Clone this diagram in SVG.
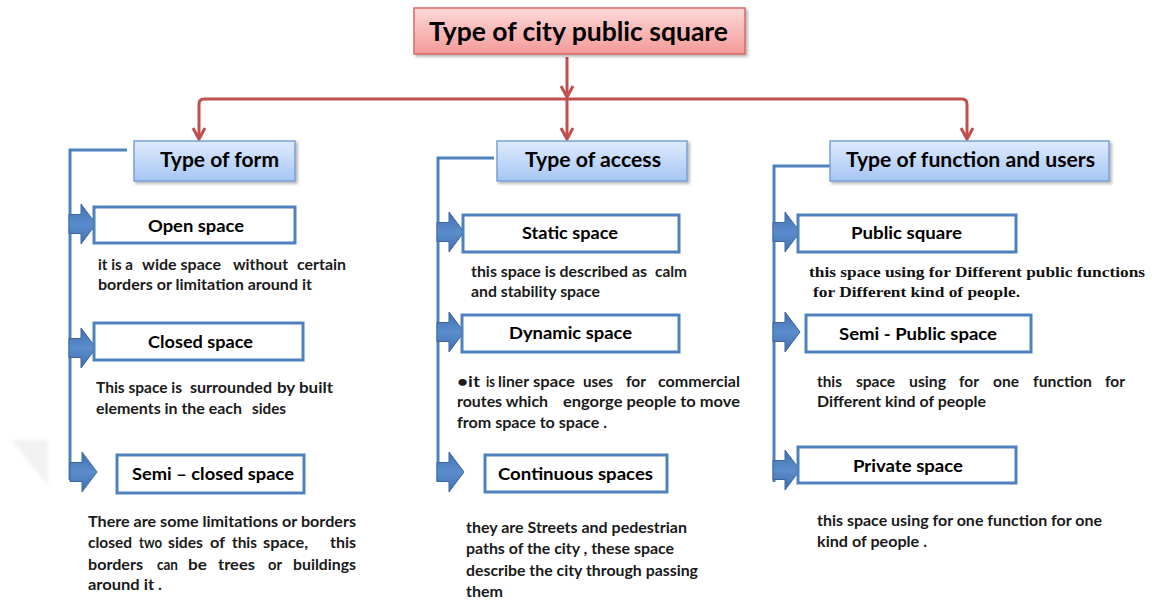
<svg xmlns="http://www.w3.org/2000/svg" width="1152" height="601" viewBox="0 0 1152 601">
<defs>
<linearGradient id="gTitle" x1="0" y1="0" x2="0" y2="1">
<stop offset="0" stop-color="#fdd9d8"/><stop offset="1" stop-color="#f39a98"/>
</linearGradient>
<linearGradient id="gHead" x1="0" y1="0" x2="0" y2="1">
<stop offset="0" stop-color="#dfebfd"/><stop offset="1" stop-color="#a6c5f4"/>
</linearGradient>
<linearGradient id="gArrow" x1="0" y1="0" x2="0" y2="1">
<stop offset="0" stop-color="#3f6fae"/><stop offset="0.5" stop-color="#5b8ccb"/><stop offset="1" stop-color="#3f6fae"/>
</linearGradient>
<filter id="sh" x="-10%" y="-20%" width="130%" height="160%">
<feDropShadow dx="2" dy="2" stdDeviation="1.5" flood-color="#000" flood-opacity="0.3"/>
</filter>
<filter id="blur" x="-20%" y="-20%" width="140%" height="140%"><feGaussianBlur stdDeviation="2"/></filter>
<marker id="chev" viewBox="0 0 12 12" refX="11" refY="6" markerWidth="12" markerHeight="12" markerUnits="userSpaceOnUse" orient="auto" overflow="visible">
<path d="M0,0 L11,6 L0,12" fill="none" stroke="#c0504d" stroke-width="3"/>
</marker>
<path id="blk" d="M-27,-9.5 H-15 V-20 L0,0 L-15,20 V9.5 H-27 Z"/>
<style>
.red{fill:none;stroke:#c0504d;stroke-width:3;stroke-linejoin:round}
.blue{fill:none;stroke:#4f81bd;stroke-width:3}
.arr{fill:url(#gArrow);stroke:#3a66a0;stroke-width:1}
.box{fill:#fff;stroke:#4f81bd;stroke-width:3}
.head{fill:url(#gHead);stroke:#7ba0d4;stroke-width:1.5}
.lbl{font-family:Lato,"Liberation Sans",sans-serif;font-weight:bold;font-size:17.5px;fill:#000}
.hd{font-family:Lato,"Liberation Sans",sans-serif;font-weight:bold;font-size:21px;fill:#000}
.ds{font-family:Lato,"Liberation Sans",sans-serif;font-weight:bold;font-size:15.5px;fill:#1a1a1a}
.sf{font-family:"Liberation Serif",serif;font-weight:bold;font-size:15px;fill:#111}
</style>
</defs>
<rect width="1152" height="601" fill="#fff"/>
<polygon points="12,440 48,440 48,486" fill="#f1f1f1" filter="url(#blur)"/>

<g id="connectors">
<path class="red" d="M567,57 V97" marker-end="url(#chev)"/>
<path class="red" d="M567,99 V139" marker-end="url(#chev)"/>
<path class="red" d="M567,99 H204 Q199,99 199,104 V139" marker-end="url(#chev)"/>
<path class="red" d="M567,99 H962 Q967,99 967,104 V139" marker-end="url(#chev)"/>
<path class="blue" d="M127,150 H70 V480"/>
<path class="blue" d="M494,158 H438 V482"/>
<path class="blue" d="M830,166 H774 V482"/>
<use href="#blk" class="arr" transform="translate(96,224)"/>
<use href="#blk" class="arr" transform="translate(96,348)"/>
<use href="#blk" class="arr" transform="translate(97,472)"/>
<use href="#blk" class="arr" transform="translate(464,232)"/>
<use href="#blk" class="arr" transform="translate(464,332)"/>
<use href="#blk" class="arr" transform="translate(464,472)"/>
<use href="#blk" class="arr" transform="translate(800,232)"/>
<use href="#blk" class="arr" transform="translate(800,332)"/>
<use href="#blk" class="arr" transform="translate(800,470)"/>
</g>

<g id="title">
<rect x="414" y="8" width="331" height="46" fill="url(#gTitle)" stroke="#d96a68" stroke-width="1.5" filter="url(#sh)"/>
<text x="429" y="41" textLength="299" lengthAdjust="spacingAndGlyphs" font-family="Lato,'Liberation Sans',sans-serif" font-weight="bold" font-size="26" fill="#000">Type of city public square</text>
</g>

<g id="type-form">
<rect class="head" x="134" y="141" width="161" height="40" filter="url(#sh)"/>
<text class="hd" x="160" y="167" textLength="119" lengthAdjust="spacingAndGlyphs">Type of form</text>
</g>
<g id="type-access">
<rect class="head" x="497" y="141" width="190" height="40" filter="url(#sh)"/>
<text class="hd" x="525" y="167" textLength="136" lengthAdjust="spacingAndGlyphs">Type of access</text>
</g>
<g id="type-function">
<rect class="head" x="830" y="141" width="279" height="40" filter="url(#sh)"/>
<text class="hd" x="846" y="167" textLength="249" lengthAdjust="spacingAndGlyphs">Type of function and users</text>
</g>

<g id="open-space">
<rect class="box" x="94" y="207" width="201" height="36"/>
<text class="lbl" x="148" y="232" textLength="96" lengthAdjust="spacingAndGlyphs">Open space</text>
<text class="ds" y="270"><tspan x="98" textLength="35" lengthAdjust="spacingAndGlyphs">it is a</tspan><tspan x="142" textLength="79" lengthAdjust="spacingAndGlyphs">wide space</tspan><tspan x="233" textLength="55" lengthAdjust="spacingAndGlyphs">without</tspan><tspan x="297" textLength="49" lengthAdjust="spacingAndGlyphs">certain</tspan></text>
<text class="ds" x="98" y="290" textLength="214" lengthAdjust="spacingAndGlyphs">borders or limitation around it</text>
</g>
<g id="closed-space">
<rect class="box" x="94" y="323" width="209" height="37"/>
<text class="lbl" x="148" y="348" textLength="105" lengthAdjust="spacingAndGlyphs">Closed space</text>
<text class="ds" y="393"><tspan x="96" textLength="86" lengthAdjust="spacingAndGlyphs">This space is</tspan><tspan x="190" textLength="82" lengthAdjust="spacingAndGlyphs">surrounded</tspan><tspan x="277" textLength="56" lengthAdjust="spacingAndGlyphs">by built</tspan></text>
<text class="ds" y="414"><tspan x="96" textLength="146" lengthAdjust="spacingAndGlyphs">elements in the each</tspan><tspan x="252" textLength="34" lengthAdjust="spacingAndGlyphs">sides</tspan></text>
</g>
<g id="semi-closed-space">
<rect class="box" x="117" y="455" width="187" height="38"/>
<text class="lbl" x="132" y="480" textLength="162" lengthAdjust="spacingAndGlyphs">Semi – closed space</text>
<text class="ds" x="88" y="527" textLength="268" lengthAdjust="spacingAndGlyphs">There are some limitations or borders</text>
<text class="ds" y="548"><tspan x="88" textLength="44" lengthAdjust="spacingAndGlyphs">closed</tspan><tspan x="139" textLength="23" lengthAdjust="spacingAndGlyphs">two</tspan><tspan x="168" textLength="35" lengthAdjust="spacingAndGlyphs">sides</tspan><tspan x="210" textLength="15" lengthAdjust="spacingAndGlyphs">of</tspan><tspan x="232" textLength="25" lengthAdjust="spacingAndGlyphs">this</tspan><tspan x="263" textLength="45" lengthAdjust="spacingAndGlyphs">space,</tspan><tspan x="330" textLength="26" lengthAdjust="spacingAndGlyphs">this</tspan></text>
<text class="ds" y="570"><tspan x="88" textLength="55" lengthAdjust="spacingAndGlyphs">borders</tspan><tspan x="157" textLength="21" lengthAdjust="spacingAndGlyphs">can</tspan><tspan x="188" textLength="19" lengthAdjust="spacingAndGlyphs">be</tspan><tspan x="218" textLength="37" lengthAdjust="spacingAndGlyphs">trees</tspan><tspan x="268" textLength="14" lengthAdjust="spacingAndGlyphs">or</tspan><tspan x="293" textLength="63" lengthAdjust="spacingAndGlyphs">buildings</tspan></text>
<text class="ds" x="88" y="590" textLength="74" lengthAdjust="spacingAndGlyphs">around it .</text>
</g>

<g id="static-space">
<rect class="box" x="463" y="215" width="216" height="37"/>
<text class="lbl" x="522" y="239" textLength="96" lengthAdjust="spacingAndGlyphs">Static space</text>
<text class="ds" y="277"><tspan x="471" textLength="176" lengthAdjust="spacingAndGlyphs">this space is described as</tspan><tspan x="655" textLength="32" lengthAdjust="spacingAndGlyphs">calm</tspan></text>
<text class="ds" x="471" y="297" textLength="129" lengthAdjust="spacingAndGlyphs">and stability space</text>
</g>
<g id="dynamic-space">
<rect class="box" x="462" y="315" width="217" height="37"/>
<text class="lbl" x="509" y="339" textLength="123" lengthAdjust="spacingAndGlyphs">Dynamic space</text>
<text class="ds" y="387"><tspan x="457" textLength="23" lengthAdjust="spacingAndGlyphs">•it</tspan><tspan x="486" textLength="9" lengthAdjust="spacingAndGlyphs">is</tspan><tspan x="498" textLength="31" lengthAdjust="spacingAndGlyphs">liner</tspan><tspan x="533" textLength="42" lengthAdjust="spacingAndGlyphs">space</tspan><tspan x="583" textLength="30" lengthAdjust="spacingAndGlyphs">uses</tspan><tspan x="626" textLength="20" lengthAdjust="spacingAndGlyphs">for</tspan><tspan x="658" textLength="82" lengthAdjust="spacingAndGlyphs">commercial</tspan></text>
<text class="ds" y="407"><tspan x="457" textLength="91" lengthAdjust="spacingAndGlyphs">routes which</tspan><tspan x="563" textLength="177" lengthAdjust="spacingAndGlyphs">engorge people to move</tspan></text>
<text class="ds" x="457" y="428" textLength="150" lengthAdjust="spacingAndGlyphs">from space to space .</text>
</g>
<g id="continuous-spaces">
<rect class="box" x="485" y="455" width="182" height="37"/>
<text class="lbl" x="498" y="480" textLength="155" lengthAdjust="spacingAndGlyphs">Continuous spaces</text>
<text class="ds" x="466" y="533" textLength="221" lengthAdjust="spacingAndGlyphs">they are Streets and pedestrian</text>
<text class="ds" x="466" y="554" textLength="208" lengthAdjust="spacingAndGlyphs">paths of the city , these space</text>
<text class="ds" x="466" y="576" textLength="232" lengthAdjust="spacingAndGlyphs">describe the city through passing</text>
<text class="ds" x="466" y="597" textLength="37" lengthAdjust="spacingAndGlyphs">them</text>
</g>

<g id="public-square">
<rect class="box" x="798" y="215" width="218" height="37"/>
<text class="lbl" x="851" y="239" textLength="111" lengthAdjust="spacingAndGlyphs">Public square</text>
<text class="sf" x="809" y="277" textLength="336" lengthAdjust="spacingAndGlyphs">this space using for Different public functions</text>
<text class="sf" x="813" y="297" textLength="207" lengthAdjust="spacingAndGlyphs">for Different kind of people.</text>
</g>
<g id="semi-public-space">
<rect class="box" x="806" y="315" width="225" height="37"/>
<text class="lbl" x="839" y="340" textLength="158" lengthAdjust="spacingAndGlyphs">Semi - Public space</text>
<text class="ds" y="387"><tspan x="817" textLength="25" lengthAdjust="spacingAndGlyphs">this</tspan><tspan x="856" textLength="39" lengthAdjust="spacingAndGlyphs">space</tspan><tspan x="909" textLength="37" lengthAdjust="spacingAndGlyphs">using</tspan><tspan x="959" textLength="20" lengthAdjust="spacingAndGlyphs">for</tspan><tspan x="993" textLength="26" lengthAdjust="spacingAndGlyphs">one</tspan><tspan x="1033" textLength="59" lengthAdjust="spacingAndGlyphs">function</tspan><tspan x="1105" textLength="20" lengthAdjust="spacingAndGlyphs">for</tspan></text>
<text class="ds" x="817" y="407" textLength="169" lengthAdjust="spacingAndGlyphs">Different kind of people</text>
</g>
<g id="private-space">
<rect class="box" x="798" y="447" width="218" height="36"/>
<text class="lbl" x="853" y="472" textLength="110" lengthAdjust="spacingAndGlyphs">Private space</text>
<text class="ds" x="817" y="526" textLength="285" lengthAdjust="spacingAndGlyphs">this space using for one function for one</text>
<text class="ds" x="817" y="547" textLength="110" lengthAdjust="spacingAndGlyphs">kind of people .</text>
</g>
</svg>
